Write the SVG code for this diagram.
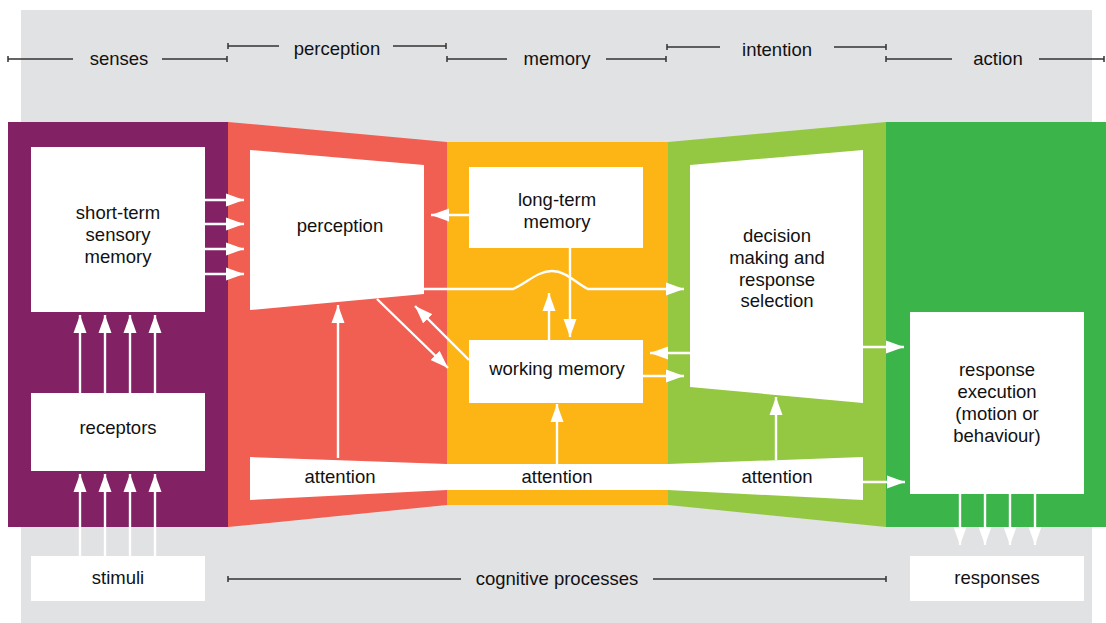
<svg xmlns="http://www.w3.org/2000/svg" width="1106" height="623" viewBox="0 0 1106 623">
<style>
text{font-family:"Liberation Sans",Arial,sans-serif;font-size:18.5px;fill:#111;text-anchor:middle}
.box{fill:#fff}
.ar{stroke:#fff;stroke-width:2.4;fill:none;marker-end:url(#ah)}
.sc{stroke:#333;stroke-width:1.5;fill:none}
</style>
<defs>
<marker id="ah" markerUnits="userSpaceOnUse" markerWidth="18" markerHeight="14" refX="18" refY="6.5" orient="auto" viewBox="0 0 18 13">
<path d="M0,0 L18,6.5 L0,13 z" fill="#fff"/>
</marker>
</defs>
<rect x="21" y="10" width="1071" height="613" fill="#E1E2E4"/>
<g id="bands">
<rect x="8" y="122" width="220" height="405" fill="#822164"/>
<polygon points="228,122 447,142 447,505 228,527" fill="#F15E52"/>
<rect x="447" y="142" width="221" height="363" fill="#FDB515"/>
<polygon points="668,142 886,122 886,527 668,505" fill="#94C843"/>
<rect x="886" y="122" width="220" height="405" fill="#3BB54A"/>
</g>
<g id="scale">
<path class="sc" d="M8,59H73M162,59H227M8,56v6M227,56v6"/>
<text x="119" y="65">senses</text>
<path class="sc" d="M228,46H279M393,46H446M228,43v6M446,43v6"/>
<text x="337" y="55">perception</text>
<path class="sc" d="M447,59H507M606,59H666M447,56v6M666,56v6"/>
<text x="557" y="65">memory</text>
<path class="sc" d="M667,47H720M834,47H886M667,44v6M886,44v6"/>
<text x="777" y="56">intention</text>
<path class="sc" d="M886,59H952M1039,59H1104M886,56v6M1104,56v6"/>
<text x="998" y="65">action</text>
<path class="sc" d="M228,579H461M653,579H886M228,576v6M886,576v6"/>
<text x="557" y="585">cognitive processes</text>
</g>
<g id="connectors">
<path class="ar" d="M205,200H244"/>
<path class="ar" d="M205,224H244"/>
<path class="ar" d="M205,249H244"/>
<path class="ar" d="M205,274H244"/>
<path class="ar" d="M80,393V315"/>
<path class="ar" d="M105,393V315"/>
<path class="ar" d="M130,393V315"/>
<path class="ar" d="M155,393V315"/>
<path class="ar" d="M80,556V474"/>
<path class="ar" d="M105,556V474"/>
<path class="ar" d="M130,556V474"/>
<path class="ar" d="M155,556V474"/>
<path class="ar" d="M338,458V305"/>
<path class="ar" d="M557,465V404"/>
<path class="ar" d="M776,460V397"/>
<path class="ar" d="M863,482H905"/>
<path class="ar" d="M469,215H431"/>
<path class="ar" d="M570,248V337"/>
<path class="ar" d="M549,340V293"/>
<path class="ar" d="M424,289H513C528,282 538,271 552,271C566,271 576,283 588,289H684"/>
<path class="ar" d="M377,299L448,368"/>
<path class="ar" d="M469,360L415,306"/>
<path class="ar" d="M643,376H684"/>
<path class="ar" d="M690,353H650"/>
<path class="ar" d="M863,347H904"/>
<path class="ar" d="M960,494V545"/>
<path class="ar" d="M985,494V545"/>
<path class="ar" d="M1010,494V545"/>
<path class="ar" d="M1035,494V545"/>
</g>
<g id="stsm"><rect class="box" x="31" y="147" width="174" height="165"/>
<text x="118" y="219">short-term</text><text x="118" y="241">sensory</text><text x="118" y="263">memory</text></g>
<g id="receptors"><rect class="box" x="31" y="393" width="174" height="78"/><text x="118" y="434">receptors</text></g>
<g id="stimuli"><rect class="box" x="31" y="556" width="174" height="45"/><text x="118" y="584">stimuli</text></g>
<g id="perception"><polygon class="box" points="250,150 424,165 424,294 250,310"/><text x="340" y="232">perception</text></g>
<g id="ltm"><rect class="box" x="469" y="167" width="174" height="81"/><text x="557" y="206">long-term</text><text x="557" y="228">memory</text></g>
<g id="wm"><rect class="box" x="469" y="340" width="174" height="63"/><text x="557" y="375">working memory</text></g>
<g id="decision"><polygon class="box" points="690,165 863,150 863,403 690,387"/>
<text x="777" y="242">decision</text><text x="777" y="264">making and</text><text x="777" y="286">response</text><text x="777" y="307">selection</text></g>
<g id="execution"><rect class="box" x="910" y="312" width="174" height="182"/>
<text x="997" y="376">response</text><text x="997" y="398">execution</text><text x="997" y="420">(motion or</text><text x="997" y="442">behaviour)</text></g>
<g id="responses"><rect class="box" x="910" y="556" width="174" height="45"/><text x="997" y="584">responses</text></g>
<g id="attention"><polygon class="box" points="250,457 447,464 668,464 863,457 863,500 668,490 447,490 250,500"/>
<text x="340" y="483">attention</text><text x="557" y="483">attention</text><text x="777" y="483">attention</text></g>
</svg>
